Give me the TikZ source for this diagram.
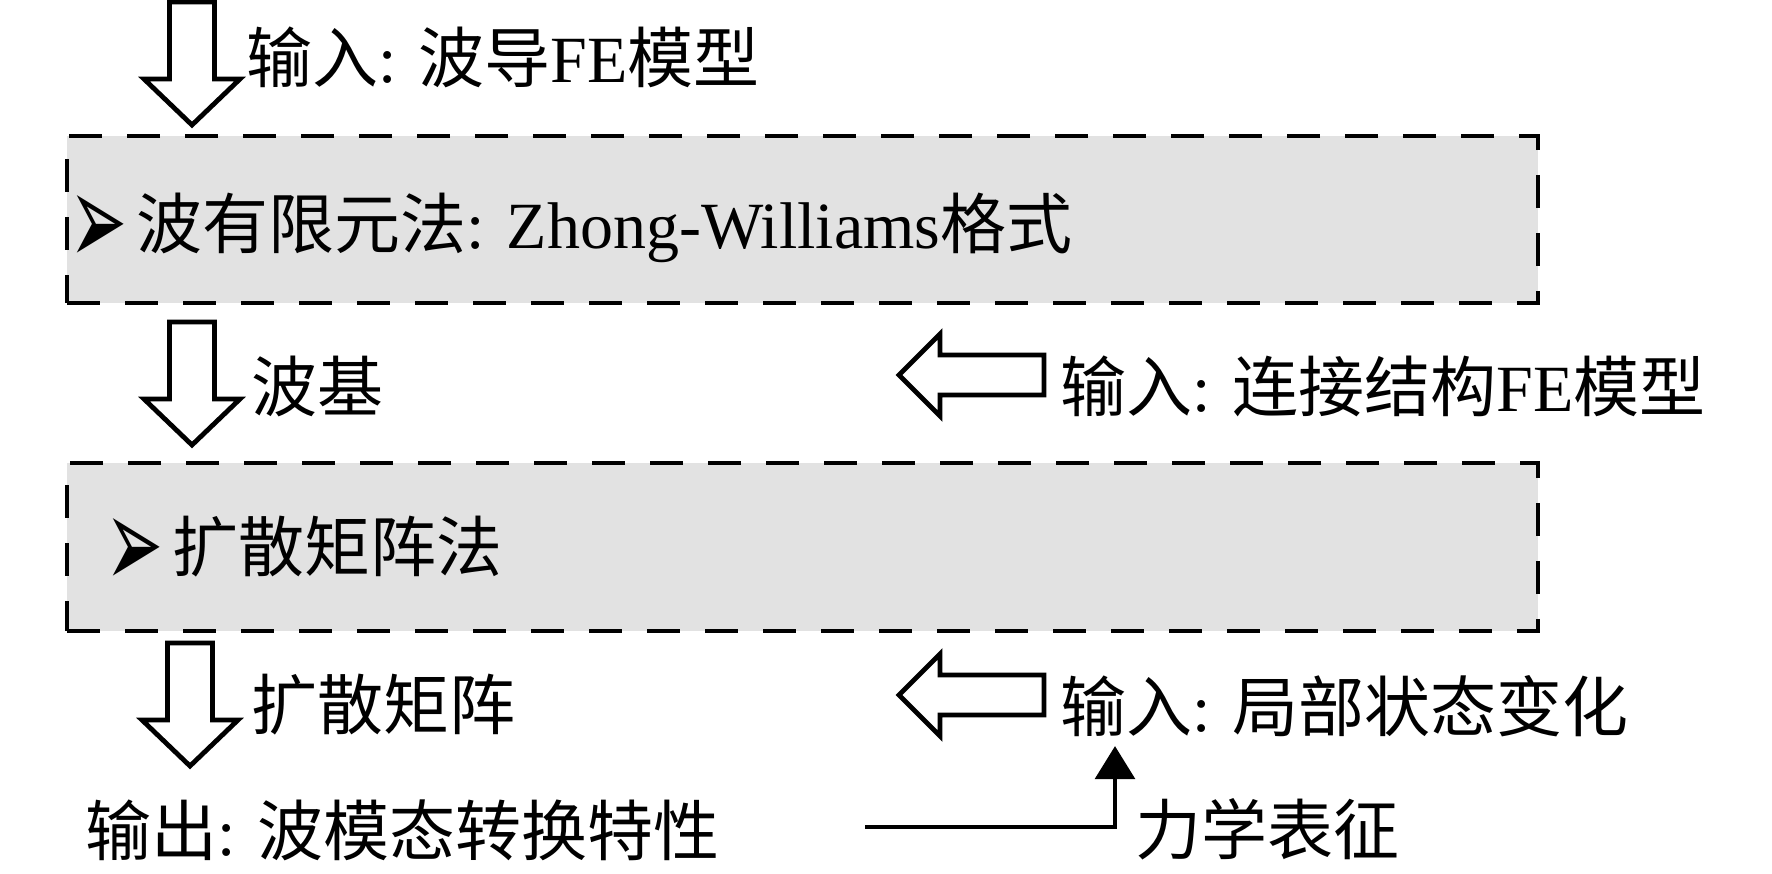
\documentclass[tikz,border=0pt]{standalone}
\usepackage{fontspec}
\setmainfont{Liberation Serif}
\newfontfamily\cjk{Noto Sans CJK SC}
\newfontfamily\symfont{DejaVu Sans}
\usetikzlibrary{positioning,arrows.meta,calc}
\newcommand{\zh}[1]{{\cjk #1}}
\newcommand{\itembullet}{\hspace{-5pt}\raisebox{-8.5pt}{\resizebox{29pt}{35pt}{\symfont ➢}}\hspace{4.5pt}}
\definecolor{boxgray}{RGB}{226,226,226}

\begin{document}
\begin{tikzpicture}[x=0.5pt,y=-0.5pt]
 \tikzset{txt/.style={inner sep=0pt,anchor=west,font=\fontsize{33pt}{40pt}\selectfont},
  dashbox/.style={draw,line width=2pt,dash pattern=on 16.5pt off 12.5pt,fill=boxgray,inner sep=0pt},
  blockarrow/.style={draw,line width=2.4pt,fill=white,line join=miter},
  arrow/.style={line width=1.6pt,-{Triangle[width=20pt,length=16.5pt]}},
  downarrow/.pic={\draw[blockarrow] (-22.5,0) -- (22.5,0) -- (22.5,77) -- (48,77) -- (0,123) -- (-48,77) -- (-22.5,77) -- cycle;},
  leftarrow/.pic={\draw[blockarrow] (0,0) -- (41,-41) -- (41,-20) -- (145,-20) -- (145,20) -- (41,20) -- (41,41) -- cycle;}}
 \useasboundingbox (0,0) rectangle (1772,873);

 \node[dashbox,minimum width=735.5pt,minimum height=83.5pt] (wfebox) at (802.5,219.5) {};
 \node[dashbox,minimum width=735.5pt,minimum height=84pt] (smbox) at (802.5,547) {};

 \node[txt] (in1) at (246,57) {\zh{输入}: \zh{波导}FE\zh{模型}};
 \node[txt] (wfe) at (79,229) {\itembullet\zh{波有限元法}: Zhong-Williams\zh{格式}};
 \node[txt] (basis) at (251,386) {\zh{波基}};
 \node[txt] (in2) at (1060,386) {\zh{输入}: \zh{连接结构}FE\zh{模型}};
 \node[txt] (sm) at (115,552) {\itembullet\zh{扩散矩阵法}};
 \node[txt] (smat) at (251,705) {\zh{扩散矩阵}};
 \node[txt] (in3) at (1060,706) {\zh{输入}: \zh{局部状态变化}};
 \node[txt] (out) at (85,830) {\zh{输出}: \zh{波模态转换特性}};
 \node[txt] (mech) at (1135,829) {\zh{力学表征}};

 \pic at (192,2) {downarrow};
 \pic at (192,322) {downarrow};
 \pic at (190,643) {downarrow};
 \pic at (899,375) {leftarrow};
 \pic at (899,695) {leftarrow};

 \coordinate (linestart) at (865,827);
 \draw[arrow] (linestart) -| ($(in3.south west)+(55,9)$);
\end{tikzpicture}
\end{document}
